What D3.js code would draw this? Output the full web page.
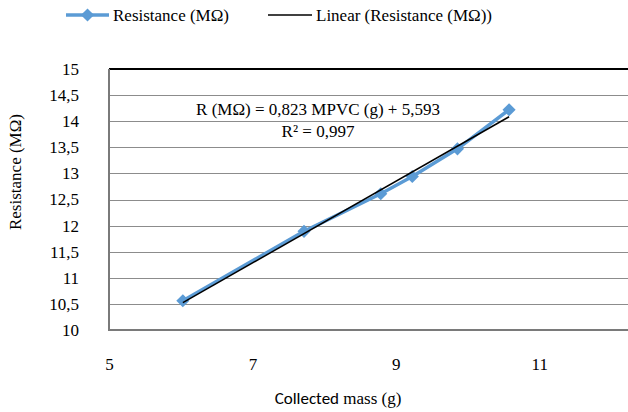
<!DOCTYPE html>
<html lang="en">
<head>
<meta charset="utf-8">
<script src="https://d3js.org/d3.v7.min.js"></script>
<style>
body { margin: 0; background: #fff; }
#chart svg { display: block; }
.grid line { stroke: #8c8c8c; stroke-width: 1; shape-rendering: crispEdges; }
</style>
</head>
<body>
<div id="chart"></div>
<script>
// values
var massG = [6.03, 7.72, 8.79, 9.23, 9.86, 10.58];
var resistanceMOhm = [10.56, 11.89, 12.61, 12.94, 13.47, 14.22];
var xTicks = [5, 7, 9, 11];
var yTicks = [10, 10.5, 11, 11.5, 12, 12.5, 13, 13.5, 14, 14.5, 15];
var seriesName = "Resistance (M\u03A9)";
var trendName = "Linear (Resistance (M\u03A9))";
var equationText = ["R (M\u03A9) = 0,823 MPVC (g) + 5,593", "R\u00B2 = 0,997"];

var width = 628, height = 412;
var plot = {left: 109, top: 69, bottom: 330};
var SERIF = "'Liberation Serif', 'Times New Roman', serif";

var x = d3.scaleLinear().domain([5, 13]).range([plot.left, plot.left + 8 * 71.7]);
var y = d3.scaleLinear().domain([10, 15]).range([plot.bottom, plot.top]);

var comma = function (v) { return String(v).replace(".", ","); };

var svg = d3.select("#chart").append("svg")
    .attr("width", width)
    .attr("height", height);

// horizontal gridlines
svg.append("g")
    .attr("class", "grid")
    .selectAll("line")
    .data(yTicks.slice(1, -1))
    .enter().append("line")
    .attr("x1", plot.left).attr("x2", width)
    .attr("y1", function (d) { return Math.round(y(d)) + 0.5; })
    .attr("y2", function (d) { return Math.round(y(d)) + 0.5; });

// plot frame: black top, grey left + bottom
svg.append("line")
    .attr("x1", plot.left).attr("x2", width)
    .attr("y1", plot.top).attr("y2", plot.top)
    .attr("stroke", "#000").attr("stroke-width", 2);
svg.append("line")
    .attr("x1", plot.left).attr("x2", plot.left)
    .attr("y1", plot.top).attr("y2", plot.bottom)
    .attr("stroke", "#7a7a7a").attr("stroke-width", 2);
svg.append("line")
    .attr("x1", plot.left - 1).attr("x2", width)
    .attr("y1", plot.bottom).attr("y2", plot.bottom)
    .attr("stroke", "#7a7a7a").attr("stroke-width", 2);

// axes (labels only, Excel style)
var yAxis = d3.axisLeft(y).tickValues(yTicks).tickFormat(comma).tickSize(0).tickPadding(30);
svg.append("g")
    .attr("transform", "translate(" + plot.left + ",0)")
    .call(yAxis)
    .attr("font-family", SERIF)
    .attr("font-size", 17)
    .call(function (g) { g.select(".domain").remove(); })
    .selectAll("text")
    .attr("fill", "#000");

var xAxis = d3.axisBottom(x).tickValues(xTicks).tickSize(0).tickPadding(28);
svg.append("g")
    .attr("transform", "translate(0," + plot.bottom + ")")
    .call(xAxis)
    .attr("font-family", SERIF)
    .attr("font-size", 17)
    .call(function (g) { g.select(".domain").remove(); })
    .selectAll("text")
    .attr("fill", "#000");

// axis titles
svg.append("text")
    .attr("font-family", SERIF)
    .attr("font-size", 17)
    .attr("text-anchor", "middle")
    .attr("transform", "translate(21,172) rotate(-90)")
    .text(seriesName);

var xTitle = svg.append("text")
    .attr("x", 338).attr("y", 404)
    .attr("text-anchor", "middle")
    .attr("font-size", 17);
xTitle.append("tspan").attr("font-family", "Carlito, 'Open Sans', sans-serif").text("Collected");
xTitle.append("tspan").attr("font-family", SERIF).text(" mass (g)");

// data series
var pts = massG.map(function (m, i) { return [m, resistanceMOhm[i]]; });
var line = d3.line().x(function (d) { return x(d[0]); }).y(function (d) { return y(d[1]); });

svg.append("path")
    .datum(pts)
    .attr("d", line)
    .attr("fill", "none")
    .attr("stroke", "#5b9bd5")
    .attr("stroke-width", 3.5)
    .attr("stroke-linejoin", "round");

var diamond = d3.symbol().type(d3.symbolDiamond2).size(110);
svg.selectAll(".pt")
    .data(pts)
    .enter().append("path")
    .attr("class", "pt")
    .attr("transform", function (d) { return "translate(" + x(d[0]) + "," + y(d[1]) + ")"; })
    .attr("d", diamond)
    .attr("fill", "#5b9bd5");

// least squares trendline over the data range
var mx = d3.mean(massG), my = d3.mean(resistanceMOhm);
var sxy = d3.sum(pts, function (d) { return (d[0] - mx) * (d[1] - my); });
var sxx = d3.sum(massG, function (m) { return (m - mx) * (m - mx); });
var slope = sxy / sxx, icpt = my - slope * mx;
var xr = d3.extent(massG);
svg.append("path")
    .datum(xr.map(function (m) { return [m, icpt + slope * m]; }))
    .attr("d", line)
    .attr("fill", "none")
    .attr("stroke", "#000")
    .attr("stroke-width", 1.5);

// equation label
svg.selectAll(".eq")
    .data(equationText)
    .enter().append("text")
    .attr("font-family", SERIF)
    .attr("font-size", 17)
    .attr("text-anchor", "middle")
    .attr("x", 318)
    .attr("y", function (d, i) { return 115 + i * 22; })
    .text(function (d) { return d; });

// legend
var legend = svg.append("g").attr("transform", "translate(0,15)");
legend.append("line")
    .attr("x1", 66).attr("x2", 109)
    .attr("stroke", "#5b9bd5").attr("stroke-width", 3.5);
legend.append("path")
    .attr("transform", "translate(87.5,0)")
    .attr("d", diamond)
    .attr("fill", "#5b9bd5");
legend.append("text")
    .attr("font-family", SERIF).attr("font-size", 17)
    .attr("x", 113).attr("dy", "0.35em")
    .text(seriesName);
legend.append("line")
    .attr("x1", 268).attr("x2", 312)
    .attr("stroke", "#000").attr("stroke-width", 1.5);
legend.append("text")
    .attr("font-family", SERIF).attr("font-size", 17)
    .attr("x", 316).attr("dy", "0.35em")
    .text(trendName);
</script>
</body>
</html>
